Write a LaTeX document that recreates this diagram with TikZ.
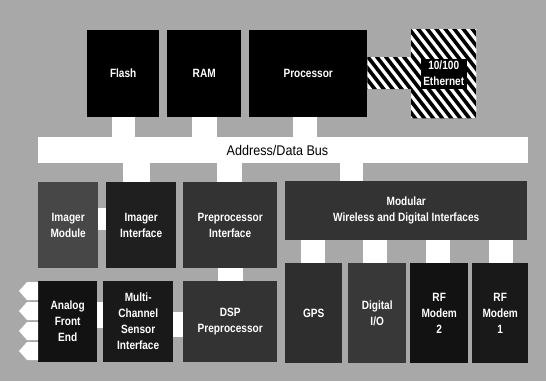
\documentclass[tikz,border=0pt]{standalone}
\usepackage{fontspec}
\setmainfont{Liberation Sans}
\newfontfamily\lblfont[FakeStretch=0.84]{Liberation Sans}
\newfontfamily\busfont[FakeStretch=0.9]{Liberation Sans}
\definecolor{bgc}{gray}{0.66}
\begin{document}
\begin{tikzpicture}[x=1pt,y=-1pt,
  block/.style={draw=none, text=white, align=center, inner sep=0pt,
    anchor=north west, font=\lblfont\bfseries\fontsize{12}{16}\selectfont},
  link/.style={draw=white, line cap=butt},
  stripes/.style={draw=white, line width=3.2pt}]

% page and background
\useasboundingbox (0,0) rectangle (546,381);
\fill[bgc] (0,0) rectangle (546,381);

% memory and processor row
\node[block, fill=black, minimum width=72pt, minimum height=87pt] (flash) at (87,30) {Flash};
\node[block, fill=black, minimum width=74pt, minimum height=87pt] (ram) at (167,30) {RAM};
\node[block, fill=black, minimum width=118pt, minimum height=87pt] (proc) at (249,30) {Processor};

% ethernet block with its striped link
\node[block, minimum width=65pt, minimum height=89pt] (eth) at (411,29) {};
\begin{scope}
  \clip (proc.east |- 0,57) rectangle (eth.west |- 0,89)
        (eth.north west) rectangle (eth.south east);
  \fill[black] (proc.east |- 0,20) rectangle (eth.east |- 0,125);
  \foreach \i in {250,259,...,500}
    \draw[stripes] (\i,15) -- ++(85,110);
\end{scope}
\node[block, anchor=center, fill=black, inner sep=2.5pt] (ethtext) at (eth.center) {10/100\\Ethernet};

% system bus
\node[fill=white, draw=none, inner sep=0pt, anchor=north west,
      minimum width=490pt, minimum height=26pt] (bus) at (38,137) {};
\node[font=\busfont\fontsize{14}{16}\selectfont, inner sep=0pt] (buslabel) at (277.5,150) {Address/Data Bus};

% links from the top row to the bus
\draw[link, line width=23pt] (flash.south) -- (flash.south |- bus.north);
\draw[link, line width=25pt] ([xshift=0.5pt]ram.south) -- ([xshift=0.5pt]ram.south |- bus.north);
\draw[link, line width=24pt] ([xshift=-3pt]proc.south) -- ([xshift=-3pt]proc.south |- bus.north);

% middle row
\node[block, fill=black!72, minimum width=60pt, minimum height=86pt] (imgmod) at (38,182) {Imager\\Module};
\node[block, fill=black!88, minimum width=70pt, minimum height=86pt] (imgif) at (106,182) {Imager\\Interface};
\node[block, fill=black!80, minimum width=94pt, minimum height=86pt] (ppif) at (183,182) {Preprocessor\\Interface};
\node[block, fill=black!80, minimum width=242pt, minimum height=59pt] (mod) at (285,181) {Modular\\Wireless and Digital Interfaces};

% links from the bus to the middle row
\draw[link, line width=27pt] ([xshift=-4.5pt]imgif.north |- bus.south) -- ([xshift=-4.5pt]imgif.north);
\draw[link, line width=25pt] ([xshift=-0.5pt]ppif.north |- bus.south) -- ([xshift=-0.5pt]ppif.north);
\draw[link, line width=23pt] ([xshift=-54.5pt]mod.north |- bus.south) -- ([xshift=-54.5pt]mod.north);
\draw[link, line width=22pt] ([yshift=6pt]imgmod.east) -- ([yshift=6pt]imgif.west);

% bottom row
\node[block, fill=black!93, minimum width=59pt, minimum height=81pt] (afe) at (38,281) {Analog\\Front\\End};
\node[block, fill=black!90, minimum width=70pt, minimum height=81pt] (mcsi) at (103,281) {Multi-\\Channel\\Sensor\\Interface};
\node[block, fill=black!80, minimum width=94pt, minimum height=81pt] (dsp) at (183,281) {DSP\\Preprocessor};
\node[block, fill=black!82, minimum width=57pt, minimum height=100pt] (gps) at (285,263) {GPS};
\node[block, fill=black!78, minimum width=58pt, minimum height=100pt] (dio) at (348,263) {Digital\\I/O};
\node[block, fill=black!93, minimum width=58pt, minimum height=100pt] (rf2) at (410,263) {RF\\Modem\\2};
\node[block, fill=black!90, minimum width=56pt, minimum height=100pt] (rf1) at (472,263) {RF\\Modem\\1};

% links in the lower rows
\draw[link, line width=25pt] (ppif.south) -- (dsp.north);
\draw[link, line width=26pt] ([yshift=6.5pt]afe.east) -- ([yshift=6.5pt]mcsi.west);
\draw[link, line width=25pt] ([yshift=-3pt]mcsi.east) -- ([yshift=-3pt]dsp.west);
\foreach \b/\s in {gps/-0.5, dio/-2, rf2/-1, rf1/0.5}
  \draw[link, line width=24pt] ([xshift=\s pt]\b.north) -- ([xshift=\s pt]\b.north |- mod.south);

% analog inputs
\foreach \y in {282,302,322,342}
  \fill[white] (afe.west |- 0,\y) -- (27,\y) -- (19,\y+9) -- (27,\y+18) -- (afe.west |- 0,\y+18) -- cycle;

\end{tikzpicture}
\end{document}
